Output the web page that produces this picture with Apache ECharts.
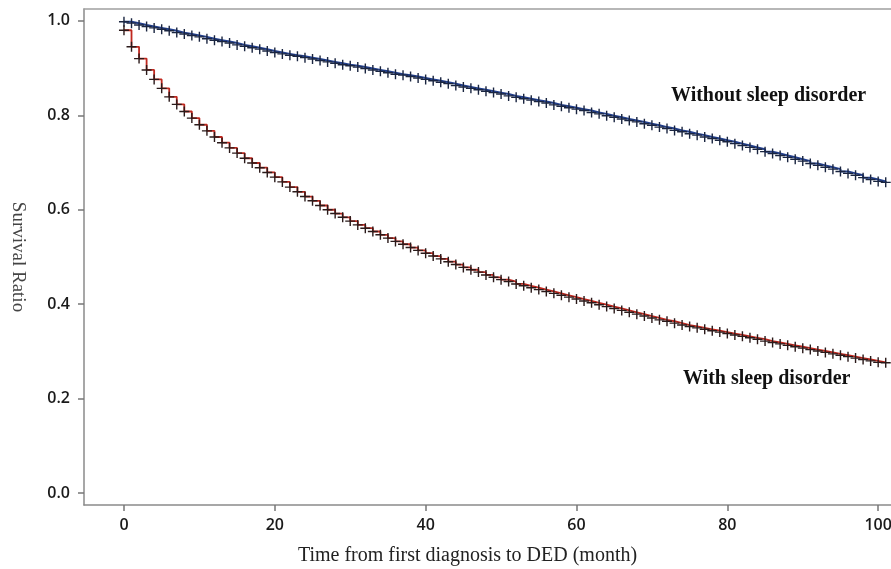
<!DOCTYPE html>
<html>
<head>
<meta charset="utf-8">
<script src="https://cdn.jsdelivr.net/npm/echarts@6/dist/echarts.min.js"></script>
<style>html,body{margin:0;padding:0;background:#fff}#c{width:891px;height:569px}</style>
</head>
<body>
<div id="c"></div>
<script>
const months = [];
for (let m = 0; m <= 101; m++) months.push(m);

const withoutSleep = [0.998,0.995,0.991,0.988,0.985,0.982,0.979,0.975,0.972,0.969,0.966,0.962,0.959,0.956,0.953,0.949,0.946,0.943,0.940,0.936,0.933,
0.930,0.927,0.925,0.922,0.919,0.916,0.913,0.910,0.907,0.905,0.902,0.899,0.896,0.893,0.890,0.887,0.885,0.882,0.879,0.876,
0.873,0.870,0.867,0.863,0.860,0.857,0.854,0.851,0.848,0.845,0.841,0.838,0.835,0.832,0.829,0.826,0.822,0.819,0.816,0.813,
0.810,0.806,0.803,0.799,0.796,0.792,0.789,0.786,0.782,0.779,0.775,0.772,0.768,0.765,0.761,0.758,0.754,0.751,0.747,0.744,
0.740,0.736,0.732,0.728,0.723,0.719,0.715,0.711,0.707,0.703,0.698,0.694,0.690,0.686,0.681,0.677,0.673,0.668,0.664,0.660,0.658];

const withSleep = [0.980,0.945,0.920,0.896,0.876,0.857,0.839,0.823,0.808,0.794,0.780,0.767,0.754,0.742,0.731,0.720,0.709,0.699,0.689,0.679,0.669,
0.659,0.648,0.638,0.628,0.619,0.609,0.600,0.592,0.584,0.576,0.568,0.561,0.554,0.547,0.540,0.533,0.527,0.520,0.514,0.508,
0.502,0.496,0.490,0.484,0.478,0.473,0.468,0.462,0.457,0.452,0.448,0.443,0.439,0.435,0.431,0.427,0.423,0.419,0.415,0.411,
0.407,0.403,0.399,0.395,0.391,0.387,0.383,0.379,0.375,0.371,0.367,0.364,0.360,0.356,0.353,0.350,0.347,0.344,0.341,0.338,
0.335,0.332,0.329,0.326,0.322,0.319,0.316,0.313,0.310,0.307,0.304,0.301,0.298,0.295,0.292,0.289,0.286,0.283,0.280,0.277,0.276];

const xTicks = [0, 20, 40, 60, 80, 100];
const yTicks = [0, 0.2, 0.4, 0.6, 0.8, 1.0];
const seriesNames = ['Without sleep disorder', 'With sleep disorder'];

const plus = 'path://M4.3,0h1.4v10h-1.4z M0,4.3h10v1.4h-10z';
const pair = (vals) => months.map((m, i) => [m, vals[i]]);

const chart = echarts.init(document.getElementById('c'), null, {renderer: 'canvas'});
const tickFont = {fontFamily: 'Open Sans', fontSize: 16, fontWeight: 600, color: '#1a1a1a'};
chart.setOption({
  animation: false,
  backgroundColor: '#fff',
  grid: {left: 84, right: 0, top: 9, bottom: 64, containLabel: false, outerBoundsMode: 'none'},
  xAxis: [{
    type: 'value', min: -5.3, max: 101.7,
    name: 'Time from first diagnosis to DED (month)', nameLocation: 'middle', nameGap: 41,
    nameTextStyle: {fontFamily: 'Liberation Serif', fontSize: 20, color: '#222', padding: [0, 40, 0, 0]},
    axisLine: {onZero: false, lineStyle: {color: '#8a8a8a', width: 1.5}},
    axisTick: {show: true, length: 6, customValues: xTicks, lineStyle: {color: '#777', width: 1.5}},
    axisLabel: Object.assign({customValues: xTicks, margin: 12}, tickFont),
    splitLine: {show: false}
  }, {
    type: 'value', position: 'top', min: -5.3, max: 101.7,
    axisLine: {show: true, onZero: false, lineStyle: {color: '#a0a0a0', width: 1.5}},
    axisTick: {show: false}, axisLabel: {show: false}, splitLine: {show: false}
  }],
  yAxis: {
    type: 'value', min: -0.025, max: 1.025,
    name: 'Survival Ratio', nameLocation: 'middle', nameGap: 57, nameRotate: -90,
    nameTextStyle: {fontFamily: 'Liberation Serif', fontSize: 19, color: '#444'},
    axisLine: {show: true, onZero: false, lineStyle: {color: '#8a8a8a', width: 1.5}},
    axisTick: {show: true, length: 6, customValues: yTicks, lineStyle: {color: '#777', width: 1.5}},
    axisLabel: Object.assign({customValues: yTicks, margin: 14, formatter: v => v.toFixed(1)}, tickFont),
    splitLine: {show: false}
  },
  series: [{
    name: seriesNames[0], type: 'line', step: 'end', data: pair(withoutSleep),
    lineStyle: {color: '#23408e', width: 2},
    symbol: plus, symbolSize: 10, showAllSymbol: true,
    itemStyle: {color: '#1a2540'}
  }, {
    name: seriesNames[1], type: 'line', step: 'end', data: pair(withSleep),
    lineStyle: {color: '#c0281f', width: 1.8},
    symbol: plus, symbolSize: 10, showAllSymbol: true,
    itemStyle: {color: '#2a1a1a'}
  }],
  graphic: [{
    type: 'text', left: 671, top: 86,
    style: {text: seriesNames[0], font: 'bold 20px "Liberation Serif"', fill: '#111'}
  }, {
    type: 'text', left: 683, top: 369,
    style: {text: seriesNames[1], font: 'bold 20px "Liberation Serif"', fill: '#111'}
  }]
});
</script>
</body>
</html>
